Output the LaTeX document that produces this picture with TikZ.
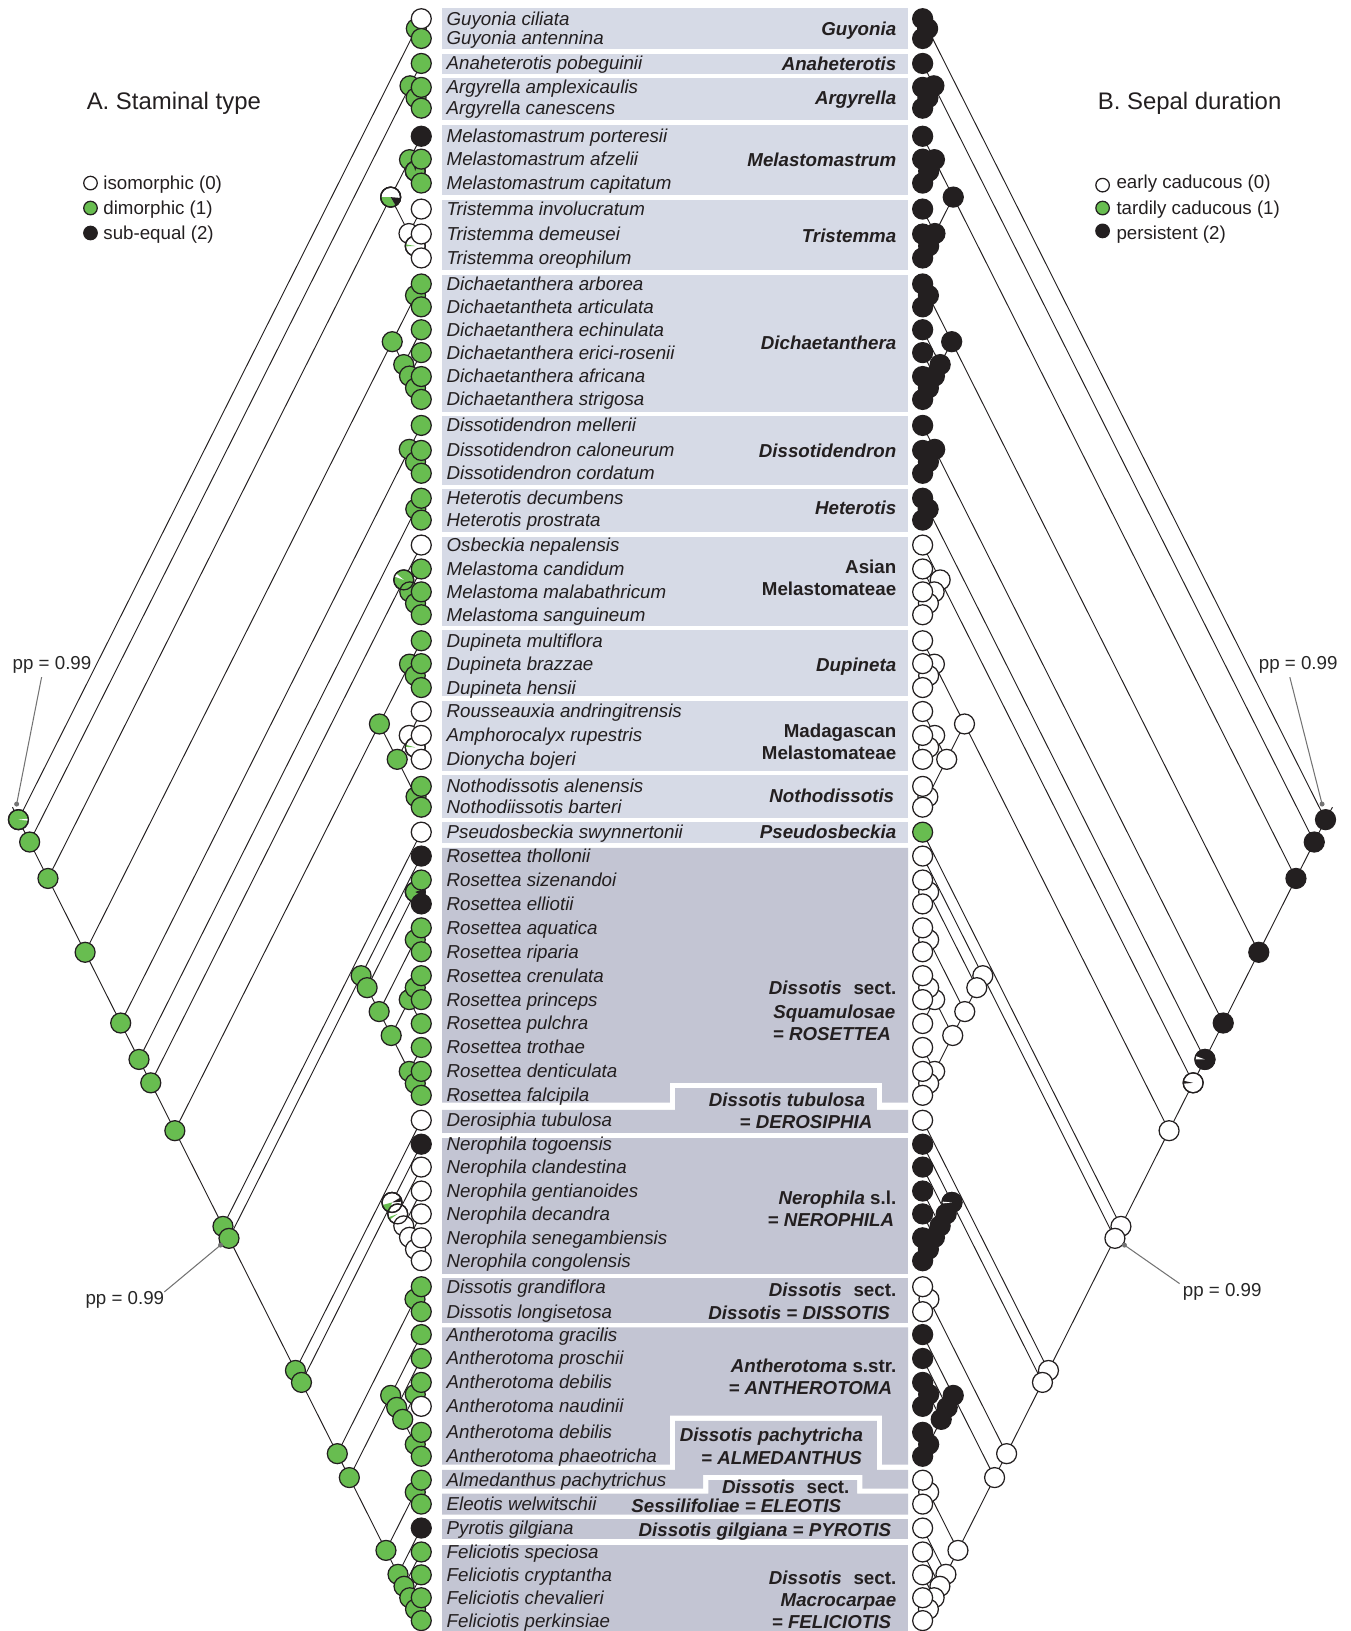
\documentclass[tikz,border=0pt]{standalone}
\usepackage{fontspec}
\setmainfont{Liberation Sans}
\usepackage{tikz}

\definecolor{stgreen}{RGB}{104,189,80}
\definecolor{stblack}{RGB}{35,31,32}
\definecolor{boxa}{RGB}{214,218,230}
\definecolor{boxb}{RGB}{195,197,211}

% tip rows (y of each species line)
\def\ys{{18,37,61,84,104,131,153,176,201,225,248,273,295,317,339,362,384,409,433,455,479,500,524,547,569,591,616,638,661,684,707,730,756,776,800,823,846,869,892,915,938,961,984,1007,1030,1053,1077,1100,1122,1145,1167,1190,1212,1237,1261,1283,1306,1329,1352,1377,1400,1423,1446,1469,1492,1514,1536,1558}}

% species / state left / state right
\def\tips{Guyonia ciliata/0/2, Guyonia antennina/1/2, Anaheterotis pobeguinii/1/2,
Argyrella amplexicaulis/1/2, Argyrella canescens/1/2, Melastomastrum porteresii/2/2,
Melastomastrum afzelii/1/2, Melastomastrum capitatum/1/2, Tristemma involucratum/0/2,
Tristemma demeusei/0/2, Tristemma oreophilum/0/2, Dichaetanthera arborea/1/2,
Dichaetantheta articulata/1/2, Dichaetanthera echinulata/1/2, Dichaetanthera erici-rosenii/1/2,
Dichaetanthera africana/1/2, Dichaetanthera strigosa/1/2, Dissotidendron mellerii/1/2,
Dissotidendron caloneurum/1/2, Dissotidendron cordatum/1/2, Heterotis decumbens/1/2,
Heterotis prostrata/1/2, Osbeckia nepalensis/0/0, Melastoma candidum/1/0,
Melastoma malabathricum/1/0, Melastoma sanguineum/1/0, Dupineta multiflora/1/0,
Dupineta brazzae/1/0, Dupineta hensii/1/0, Rousseauxia andringitrensis/0/0,
Amphorocalyx rupestris/0/0, Dionycha bojeri/0/0, Nothodissotis alenensis/1/0,
Nothodiissotis barteri/1/0, Pseudosbeckia swynnertonii/0/1, Rosettea thollonii/2/0,
Rosettea sizenandoi/1/0, Rosettea elliotii/2/0, Rosettea aquatica/1/0,
Rosettea riparia/1/0, Rosettea crenulata/1/0, Rosettea princeps/1/0,
Rosettea pulchra/1/0, Rosettea trothae/1/0, Rosettea denticulata/1/0,
Rosettea falcipila/1/0, Derosiphia tubulosa/0/0, Nerophila togoensis/2/2,
Nerophila clandestina/0/2, Nerophila gentianoides/0/2, Nerophila decandra/0/2,
Nerophila senegambiensis/0/2, Nerophila congolensis/0/2, Dissotis grandiflora/1/0,
Dissotis longisetosa/1/0, Antherotoma gracilis/1/2, Antherotoma proschii/1/2,
Antherotoma debilis/1/2, Antherotoma naudinii/0/2, Antherotoma debilis/1/2,
Antherotoma phaeotricha/1/2, Almedanthus pachytrichus/1/0, Eleotis welwitschii/1/0,
Pyrotis gilgiana/2/0, Feliciotis speciosa/1/0, Feliciotis cryptantha/1/0,
Feliciotis chevalieri/1/0, Feliciotis perkinsiae/1/0}

% clade / first tip / last tip / state left / state right
\def\clades{root/1/68/1/2, gu/1/2/1/2, a1/3/68/1/2, aa/3/5/1/2, ar/4/5/1/2,
a2/6/68/1/2, mt/6/11/0/2, me/6/8/1/2, me2/7/8/1/2, tr/9/11/0/2, tr2/10/11/0/2,
a3/12/68/1/2, di/12/17/1/2, di1/12/13/1/2, di2/14/17/1/2, di3/15/17/1/2, di4/16/17/1/2,
a4/18/68/1/2, ds/18/20/1/2, ds2/19/20/1/2, a5/21/68/1/2, he/21/22/1/2,
a6/23/68/1/0, as/23/26/1/0, as2/24/26/1/0, as3/25/26/1/0,
a7/27/68/1/0, dm/27/34/1/0, du/27/29/1/0, du2/28/29/1/0, mn/30/34/1/0,
ma/30/32/0/0, ma2/31/32/0/0, no/33/34/1/0, a8/35/68/1/0, a9/36/68/1/0,
ro/36/46/1/0, ro2/37/46/1/0, ro3/37/38/1/0, ro4/39/46/1/0, ro5/39/40/1/0,
ro6/41/46/1/0, ro7/41/43/1/0, ro9/41/42/1/0, ro8/44/46/1/0, ro10/45/46/1/0,
b1/47/68/1/0, b2/48/68/1/0, ne/48/53/0/2, ne2/49/53/0/2, ne3/50/53/0/2,
ne4/51/53/0/2, ne5/52/53/0/2, b3/54/68/1/0, dd/54/55/1/0, b4/56/68/1/0,
an/56/61/1/2, an2/57/61/1/2, an3/58/61/1/2, an4/58/59/1/2, an5/60/61/1/2,
b5/62/68/1/0, al/62/63/1/0, pf/64/68/1/0, fe/65/68/1/0, fe2/66/68/1/0, fe3/67/68/1/0}

\def\edges{root/gu, root/a1, gu/1, gu/2, a1/aa, a1/a2, aa/3, aa/ar, ar/4, ar/5,
a2/mt, a2/a3, mt/me, mt/tr, me/6, me/me2, me2/7, me2/8, tr/9, tr/tr2, tr2/10, tr2/11,
a3/di, a3/a4, di/di1, di/di2, di1/12, di1/13, di2/14, di2/di3, di3/15, di3/di4, di4/16, di4/17,
a4/ds, a4/a5, ds/18, ds/ds2, ds2/19, ds2/20, a5/he, a5/a6, he/21, he/22,
a6/as, a6/a7, as/23, as/as2, as2/24, as2/as3, as3/25, as3/26,
a7/dm, a7/a8, dm/du, dm/mn, du/27, du/du2, du2/28, du2/29, mn/ma, mn/no,
ma/30, ma/ma2, ma2/31, ma2/32, no/33, no/34, a8/35, a8/a9, a9/ro, a9/b1,
ro/36, ro/ro2, ro2/ro3, ro2/ro4, ro3/37, ro3/38, ro4/ro5, ro4/ro6, ro5/39, ro5/40,
ro6/ro7, ro6/ro8, ro7/ro9, ro7/43, ro9/41, ro9/42, ro8/44, ro8/ro10, ro10/45, ro10/46,
b1/47, b1/b2, b2/ne, b2/b3, ne/48, ne/ne2, ne2/49, ne2/ne3, ne3/50, ne3/ne4,
ne4/51, ne4/ne5, ne5/52, ne5/53, b3/dd, b3/b4, dd/54, dd/55, b4/an, b4/b5,
an/56, an/an2, an2/57, an2/an3, an3/an4, an3/an5, an4/58, an4/59, an5/60, an5/61,
b5/al, b5/pf, al/62, al/63, pf/64, pf/fe, fe/65, fe/fe2, fe2/66, fe2/fe3, fe3/67, fe3/68}

% slice of a pie node
\newcommand{\piecut}[4]{%
  \fill[#4] (#1) -- ++(#2:4.8pt) arc[start angle=#2, end angle=#3, radius=4.8pt] -- cycle;
  \draw[stblack, line width=0.6pt] (#1) circle[radius=4.8pt];
}

\begin{document}
\begin{tikzpicture}[x=0.5pt, y=-0.5pt,
  branch/.style={draw=stblack, line width=0.45pt},
  pienode/.style={circle, draw=stblack, line width=0.6pt, minimum size=9.6pt, inner sep=0pt},
  st0/.style={fill=white}, st1/.style={fill=stgreen}, st2/.style={fill=stblack},
  keydot/.style={circle, draw=stblack, line width=0.6pt, minimum size=6.5pt, inner sep=0pt},
  spname/.style={font=\fontsize{9}{10}\selectfont\itshape, text=stblack, inner sep=0pt, anchor=base west, yshift=-3.1pt},
  grp/.style={font=\fontsize{9}{10}\selectfont\bfseries, text=stblack, inner sep=0pt, anchor=base east, yshift=-3.1pt},
  keytxt/.style={font=\fontsize{9}{10}\selectfont, text=stblack, inner sep=0pt, anchor=base west, yshift=-3.1pt},
  title/.style={font=\fontsize{11.5}{13}\selectfont, text=stblack, inner sep=0pt, anchor=base west, yshift=-4pt},
  ppnote/.style={font=\fontsize{9}{10}\selectfont, text=black!85, inner sep=0pt},
  ppline/.style={draw=black!55, line width=0.5pt},
  boxlight/.style={fill=boxa}, boxdark/.style={fill=boxb}]

\useasboundingbox (0,0) rectangle (1298,1568);

% grey bands behind the names
\foreach \ya/\yb in {8/47, 52/71, 75/115, 120/187, 192/260, 264/396, 400/466, 470/511,
                     516/602, 606/669, 674/741, 745/786, 790/810}
  \fill[boxlight] (425,\ya) rectangle (873,\yb);
\foreach \ya/\yb in {1094/1225, 1229/1272, 1460/1480, 1485/1568}
  \fill[boxdark] (425,\ya) rectangle (873,\yb);
\fill[boxdark] (425,815) -- (873,815) -- (873,1060) -- (848,1060) -- (848,1041) -- (644,1041) -- (644,1060) -- (425,1060) -- cycle;
\fill[boxdark] (425,1067) -- (649,1067) -- (649,1046) -- (843,1046) -- (843,1067) -- (873,1067) -- (873,1089) -- (425,1089) -- cycle;
\fill[boxdark] (425,1276) -- (873,1276) -- (873,1408) -- (848,1408) -- (848,1361) -- (644,1361) -- (644,1408) -- (425,1408) -- cycle;
\fill[boxdark] (425,1413) -- (649,1413) -- (649,1366) -- (843,1366) -- (843,1413) -- (873,1413) -- (873,1431) -- (829,1431) -- (829,1418) -- (676,1418) -- (676,1431) -- (425,1431) -- cycle;
\fill[boxdark] (425,1436) -- (681,1436) -- (681,1423) -- (824,1423) -- (824,1436) -- (873,1436) -- (873,1456) -- (425,1456) -- cycle;

% tips and species names
\foreach \n/\sl/\sr [count=\i] in \tips {
  \pgfmathsetmacro\yy{\ys[\i-1]}
  \coordinate (L\i) at (405,\yy);
  \coordinate (R\i) at (887,\yy);
  \node[spname] (sp\i) at (429,\yy) {\n};
}

% inner nodes of both trees
\foreach \c/\a/\b/\sl/\sr in \clades {
  \pgfmathsetmacro\ya{\ys[\a-1]}
  \pgfmathsetmacro\yb{\ys[\b-1]}
  \pgfmathsetmacro\dxx{0.2515*(\yb-\ya)}
  \coordinate (L\c) at ({405-\dxx},{(\ya+\yb)/2});
  \coordinate (R\c) at ({887+\dxx},{(\ya+\yb)/2});
}

% branches
\foreach \p/\c in \edges {
  \draw[branch] (L\p) -- (L\c);
  \draw[branch] (R\p) -- (R\c);
}
\coordinate (Lstub) at (12,776);
\coordinate (Rstub) at (1281,776);
\draw[branch] (Lroot) -- (Lstub);
\draw[branch] (Rroot) -- (Rstub);

% states at inner nodes
\foreach \c/\a/\b/\sl/\sr in \clades {
  \node[pienode, st\sl] (cL\c) at (L\c) {};
  \node[pienode, st\sr] (cR\c) at (R\c) {};
}
\piecut{Lroot}{-6}{6}{white}
\piecut{Lmt}{180}{300}{stgreen}
\piecut{Lmt}{300}{355}{stblack}
\piecut{Lme2}{75}{105}{stblack}
\piecut{Ltr2}{170}{182}{stgreen}
\piecut{Las}{140}{160}{white}
\piecut{Lma2}{165}{177}{stgreen}
\piecut{Lro3}{-30}{20}{stblack}
\piecut{Lne}{195}{255}{stgreen}
\piecut{Lne}{5}{30}{stblack}
\piecut{Lne2}{200}{215}{stgreen}
\piecut{Ra5}{160}{180}{white}
\piecut{Ra6}{168}{185}{stblack}
\piecut{Rne}{175}{186}{white}

% states at tips
\foreach \n/\sl/\sr [count=\i] in \tips {
  \node[pienode, st\sl] (cL\i) at (L\i) {};
  \node[pienode, st\sr] (cR\i) at (R\i) {};
}

% group names
\node[grp] (gGuy) at (862,28) {\itshape Guyonia};
\node[grp] (gAna) at (862,62) {\itshape Anaheterotis};
\node[grp] (gArg) at (862,94) {\itshape Argyrella};
\node[grp] (gMel) at (862,154) {\itshape Melastomastrum};
\node[grp] (gTri) at (862,227) {\itshape Tristemma};
\node[grp] (gDic) at (862,330) {\itshape Dichaetanthera};
\node[grp] (gDis) at (862,434) {\itshape Dissotidendron};
\node[grp] (gHet) at (862,488) {\itshape Heterotis};
\node[grp] (gAs1) at (862,545) {Asian};
\node[grp] (gAs2) at (862,566) {Melastomateae};
\node[grp] (gDup) at (862,639) {\itshape Dupineta};
\node[grp] (gMa1) at (862,703) {Madagascan};
\node[grp] (gMa2) at (862,724) {Melastomateae};
\node[grp] (gNot) at (860,765) {\itshape Nothodissotis};
\node[grp] (gPse) at (862,800) {\itshape Pseudosbeckia};
\node[grp] (gRo1) at (862,950) {\textit{Dissotis}\hspace{0.35em} sect.};
\node[grp] (gRo2) at (861,973) {\itshape Squamulosae};
\node[grp] (gRo3) at (857,994) {\itshape = ROSETTEA};
\node[grp] (gDe1) at (832,1058) {\itshape Dissotis tubulosa};
\node[grp] (gDe2) at (839,1079) {\itshape = DEROSIPHIA};
\node[grp] (gNe1) at (862,1152) {\textit{Nerophila} s.l.};
\node[grp] (gNe2) at (860,1173) {\itshape = NEROPHILA};
\node[grp] (gDd1) at (862,1240) {\textit{Dissotis}\hspace{0.35em} sect.};
\node[grp] (gDd2) at (856,1262) {\itshape Dissotis = DISSOTIS};
\node[grp] (gAn1) at (862,1313) {\textit{Antherotoma} s.str.};
\node[grp] (gAn2) at (858,1334) {\itshape = ANTHEROTOMA};
\node[grp] (gAl1) at (830,1380) {\itshape Dissotis pachytricha};
\node[grp] (gAl2) at (829,1402) {\itshape = ALMEDANTHUS};
\node[grp] (gEl1) at (817,1430) {\textit{Dissotis}\hspace{0.35em} sect.};
\node[grp] (gEl2) at (809,1448) {\itshape Sessilifoliae = ELEOTIS};
\node[grp] (gPyr) at (857,1471) {\itshape Dissotis gilgiana = PYROTIS};
\node[grp] (gFe1) at (862,1517) {\textit{Dissotis}\hspace{0.35em} sect.};
\node[grp] (gFe2) at (862,1538) {\itshape Macrocarpae};
\node[grp] (gFe3) at (857,1559) {\itshape = FELICIOTIS};

% legends
\node[title] (titA) at (83,97) {A. Staminal type};
\node[keydot, st0] (kA0) at (87,176) {};
\node[keydot, st1] (kA1) at (87,200) {};
\node[keydot, st2] (kA2) at (87,224) {};
\node[keytxt] (tA0) at (99,176) {isomorphic (0)};
\node[keytxt] (tA1) at (99,200) {dimorphic (1)};
\node[keytxt] (tA2) at (99,224) {sub-equal (2)};

\node[title] (titB) at (1055,97) {B. Sepal duration};
\node[keydot, st0] (kB0) at (1060,178) {};
\node[keydot, st1] (kB1) at (1060,200) {};
\node[keydot, st2] (kB2) at (1060,222) {};
\node[keytxt] (tB0) at (1073,175) {early caducous (0)};
\node[keytxt] (tB1) at (1073,200) {tardily caducous (1)};
\node[keytxt] (tB2) at (1073,224) {persistent (2)};

% support values
\node[ppnote] (pp1) at (50,639) {pp = 0.99};
\coordinate (pp1a) at (40,651);
\coordinate (pp1b) at (16,773);
\draw[ppline] (pp1a) -- (pp1b);
\fill[black!55] (pp1b) circle[radius=1.2pt];

\node[ppnote] (pp2) at (120,1250) {pp = 0.99};
\coordinate (pp2a) at (158,1242);
\coordinate (pp2b) at (212,1197);
\draw[ppline] (pp2a) -- (pp2b);
\fill[black!55] (pp2b) circle[radius=1.2pt];

\node[ppnote] (pp3) at (1248,639) {pp = 0.99};
\coordinate (pp3a) at (1240,651);
\coordinate (pp3b) at (1271,773);
\draw[ppline] (pp3a) -- (pp3b);
\fill[black!55] (pp3b) circle[radius=1.2pt];

\node[ppnote] (pp4) at (1175,1242) {pp = 0.99};
\coordinate (pp4a) at (1134,1234);
\coordinate (pp4b) at (1081,1197);
\draw[ppline] (pp4a) -- (pp4b);
\fill[black!55] (pp4b) circle[radius=1.2pt];

\end{tikzpicture}
\end{document}
